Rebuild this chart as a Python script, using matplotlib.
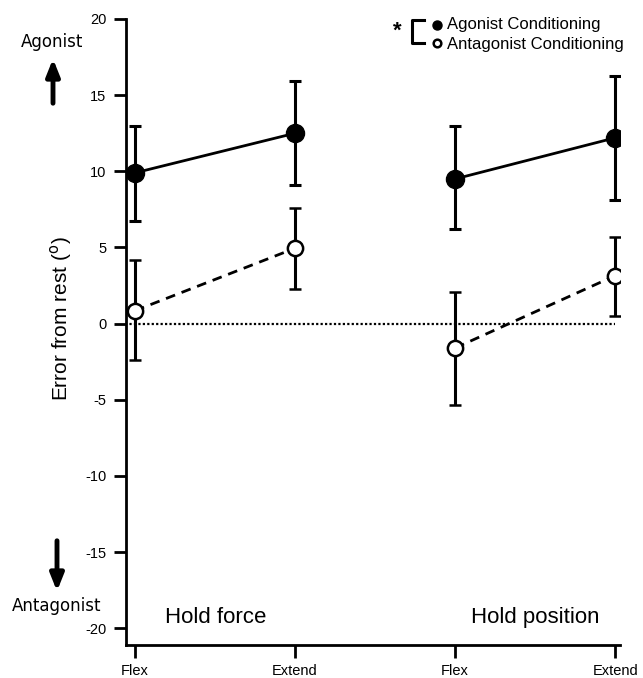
import matplotlib.pyplot as plt
from matplotlib.lines import Line2D
from matplotlib.patches import FancyArrowPatch

plt.rcParams["font.family"] = ["Liberation Sans", "DejaVu Sans"]
plt.rcParams["axes.unicode_minus"] = False

# Werte
positions = [0, 1, 2, 3]
tick_labels = ["Flex", "Extend", "Flex", "Extend"]

agonist = [9.9, 12.5, 9.5, 12.2]
agonist_lo = [6.75, 9.1, 6.2, 8.1]
agonist_hi = [13.0, 15.9, 12.95, 16.25]

antagonist = [0.85, 4.95, -1.6, 3.15]
antagonist_lo = [-2.4, 2.3, -5.35, 0.5]
antagonist_hi = [4.2, 7.6, 2.05, 5.7]

W, H = 643, 678
fig = plt.figure(figsize=(W / 100, H / 100), dpi=100)
ax = fig.add_axes([126 / W, 1 - 645 / H, (620 - 126) / W, (645 - 19) / H])

ax.plot([-0.06, 3], [0, 0], color="black", linestyle=(0, (1, 1)), lw=1.6, zorder=1)

for grp in [slice(0, 2), slice(2, 4)]:
    x = positions[grp]
    y = agonist[grp]
    err = [[a - b for a, b in zip(y, agonist_lo[grp])],
           [b - a for a, b in zip(y, agonist_hi[grp])]]
    ax.errorbar(x, y, yerr=err, color="black", lw=2, elinewidth=2.2,
                capsize=4, capthick=2.2, marker="o", ms=13,
                mfc="black", mec="black", zorder=3)
    y = antagonist[grp]
    err = [[a - b for a, b in zip(y, antagonist_lo[grp])],
           [b - a for a, b in zip(y, antagonist_hi[grp])]]
    ax.errorbar(x, y, yerr=err, color="black", lw=2, ls=(0, (3.5, 2.5)),
                elinewidth=2.2, capsize=4, capthick=2.2, marker="o", ms=11,
                mfc="white", mec="black", mew=1.8, zorder=3)

ax.set_xlim(-0.056, 3.03)
ax.set_ylim(-21.1, 20)
ax.set_xticks(positions)
ax.set_xticklabels(tick_labels)
ax.set_yticks(range(-20, 21, 5))
ax.tick_params(axis="y", width=2, length=9, labelsize=10.5, pad=5)
ax.tick_params(axis="x", width=2, length=9, labelsize=10.5, pad=5)
for s in ["top", "right"]:
    ax.spines[s].set_visible(False)
for s in ["left", "bottom"]:
    ax.spines[s].set_linewidth(2)
ax.set_ylabel("Error from rest ($^{\\mathrm{o}}$)", fontsize=15)
ax.yaxis.set_label_coords(-0.105, 0.522)

ax.text(0.19, -19.3, "Hold force", fontsize=16, va="center", ha="left")
ax.text(2.9, -19.3, "Hold position", fontsize=16, va="center", ha="right")

# Pfeile und Beschriftungen links
fig.text(52 / W, 1 - 42 / H, "Agonist", fontsize=12, ha="center", va="center",
         family="DejaVu Sans")
fig.text(57 / W, 1 - 606 / H, "Antagonist", fontsize=12, ha="center", va="center",
         family="DejaVu Sans")
fig.patches.append(FancyArrowPatch(
    (53 / W, 1 - 106 / H), (53 / W, 1 - 56 / H), transform=fig.transFigure,
    arrowstyle="-|>,head_width=4,head_length=10", lw=3.5, color="black",
    mutation_scale=1))
fig.patches.append(FancyArrowPatch(
    (57 / W, 1 - 538 / H), (57 / W, 1 - 594 / H), transform=fig.transFigure,
    arrowstyle="-|>,head_width=4,head_length=10", lw=3.5, color="black",
    mutation_scale=1))

# Legende
fig.lines.append(Line2D([437 / W], [1 - 25 / H], marker="o", ms=6.5, color="black",
                        transform=fig.transFigure))
fig.lines.append(Line2D([437 / W], [1 - 43 / H], marker="o", ms=5.5, mfc="white",
                        mec="black", mew=1.8, color="black", transform=fig.transFigure))
fig.text(447 / W, 1 - 25 / H, "Agonist Conditioning", fontsize=12, va="center")
fig.text(447 / W, 1 - 44 / H, "Antagonist Conditioning", fontsize=12, va="center")
fig.lines.append(Line2D([424 / W, 412 / W, 412 / W, 424 / W],
                        [1 - 20 / H, 1 - 20 / H, 1 - 43 / H, 1 - 43 / H],
                        color="black", lw=2.2, transform=fig.transFigure))
fig.text(397 / W, 1 - 31 / H, "*", fontsize=16, ha="center", va="center",
         fontweight="bold")

fig.savefig("out.png", dpi=100)
